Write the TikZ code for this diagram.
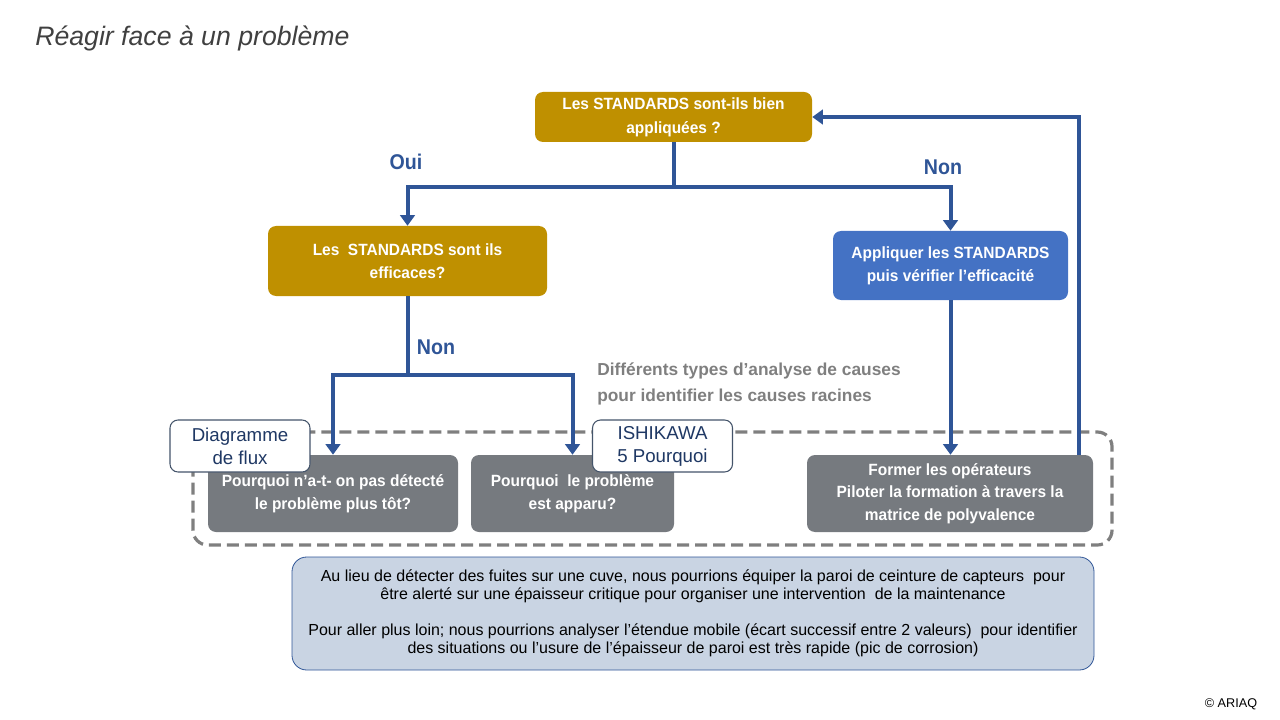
\documentclass[tikz,border=0pt]{standalone}
\usepackage{fontspec}
\setmainfont{Liberation Sans}
\newfontfamily\narrow[FakeStretch=0.95]{Liberation Sans}
\newfontfamily\lblfont[FakeStretch=0.92]{Liberation Sans}
\usetikzlibrary{arrows.meta}
\definecolor{gold}{HTML}{BF9000}
\definecolor{bluebox}{HTML}{4472C4}
\definecolor{graybox}{HTML}{767A7F}
\definecolor{conn}{HTML}{2F5597}
\definecolor{frame}{HTML}{7F7F7F}
\definecolor{labtext}{HTML}{1F3864}
\definecolor{labborder}{HTML}{44546A}
\definecolor{notefill}{HTML}{C9D4E3}
\definecolor{titlegray}{HTML}{404040}
\tikzset{
  box/.style={rounded corners=6pt, text=white, align=center, inner sep=0pt,
    font=\narrow\bfseries\fontsize{12.2}{17}\selectfont,
    execute at begin node={\rule{0pt}{14pt}}},
  goldbox/.style={box, fill=gold},
  bluebx/.style={box, fill=bluebox},
  graybx/.style={box, fill=graybox},
  labbox/.style={draw=labborder, line width=0.8pt, fill=white, rounded corners=6pt,
    text=labtext, align=center, inner sep=0pt, minimum width=105pt, minimum height=39pt,
    font=\fontsize{14}{17.25}\selectfont},
  connector/.style={draw=conn, line width=3pt},
  arrowed/.style={connector, -{Triangle[width=11pt,length=8pt]}},
  lbl/.style={text=conn, font=\lblfont\bfseries\fontsize{16}{18}\selectfont, inner sep=0pt},
}
\begin{document}
\begin{tikzpicture}[x=0.75pt,y=-0.75pt]
\useasboundingbox (0,0) rectangle (1280,720);
% title
\node[anchor=base west, inner sep=0pt, text=titlegray, font=\itshape\fontsize{20}{24}\selectfont] (title) at (35,46) {Réagir face à un problème};
% dashed frame
\draw[frame, line width=2.4pt, dash pattern=on 9pt off 4.5pt, rounded corners=11pt] (193,432) rectangle (1112,545);
% boxes
\node[goldbox, minimum width=207.75pt, minimum height=37.5pt, font=\narrow\bfseries\fontsize{12.2}{18}\selectfont] (b1) at (673.5,117) {Les STANDARDS sont-ils bien\\appliquées ?};
\node[goldbox, minimum width=209.25pt, minimum height=52.5pt] (b2) at (407.5,261) {Les\ \ STANDARDS sont ils\\efficaces?};
\node[bluebx, minimum width=176.25pt, minimum height=51.75pt] (b3) at (950.5,265.5) {Appliquer les STANDARDS\\puis vérifier l’efficacité};
\node[graybx, minimum width=187.5pt, minimum height=57.75pt] (b4) at (333,493.5) {Pourquoi n’a-t- on pas détecté\\le problème plus tôt?};
\node[graybx, minimum width=152.25pt, minimum height=57.75pt] (b5) at (572.5,493.5) {Pourquoi\ \ le problème\\est apparu?};
\node[graybx, minimum width=214.5pt, minimum height=57.75pt] (b6) at (950,493.5) {Former les opérateurs\\Piloter la formation à travers la\\matrice de polyvalence};
% label boxes
\node[labbox] (l1) at (240,446) {Diagramme\\de flux};
\node[labbox] (l2) at (662.5,446) {ISHIKAWA\\5 Pourquoi};
% connectors
\coordinate (j1) at (673.5,187);
\coordinate (j2) at (407.5,375);
\coordinate (fb) at (1079,455);
\draw[connector] (b1.south) -- (j1);
\draw[arrowed] (j1) -| (b2.north);
\draw[arrowed] (j1) -| (b3.north);
\draw[connector] (b2.south) -- (j2);
\draw[arrowed] (j2) -| (b4.north);
\draw[arrowed] (j2) -| (b5.north);
\draw[arrowed] (b3.south) -- (b3.south |- b6.north);
\draw[arrowed] (fb) |- (b1.east);
% connector labels
\node[lbl] (oui) at (406,162) {Oui};
\node[lbl] (non1) at (943,167) {Non};
\node[lbl] (non2) at (436,347) {Non};
% gray caption
\node[anchor=west, inner sep=0pt, align=left, text=frame, font=\bfseries\fontsize{13}{19}\selectfont] (cap) at (597,384) {Différents types d’analyse de causes\\pour identifier les causes racines};
% note box
\node[draw=conn, line width=0.6pt, fill=notefill, rounded corners=11pt, minimum width=601.5pt, minimum height=84.75pt, align=center, inner sep=0pt, font=\fontsize{12}{13.5}\selectfont] (note) at (693,613.5) {Au lieu de détecter des fuites sur une cuve, nous pourrions équiper la paroi de ceinture de capteurs\ \ pour\\être alerté sur une épaisseur critique pour organiser une intervention\ \ de la maintenance\\[13.5pt]Pour aller plus loin; nous pourrions analyser l’étendue mobile (écart successif entre 2 valeurs)\ \ pour identifier\\des situations ou l’usure de l’épaisseur de paroi est très rapide (pic de corrosion)};
% copyright
\node[inner sep=0pt, font=\fontsize{9.5}{11}\selectfont] (copy) at (1231,704) {© ARIAQ};
\end{tikzpicture}
\end{document}
